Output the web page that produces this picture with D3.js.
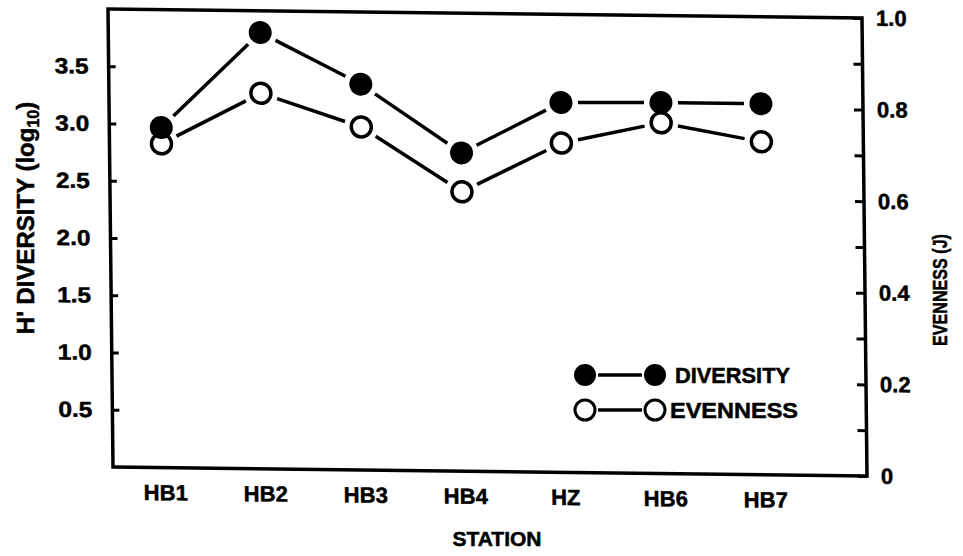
<!DOCTYPE html>
<html>
<head>
<meta charset="utf-8">
<script src="https://cdn.jsdelivr.net/npm/d3@7"></script>
<style>
  html, body { margin: 0; padding: 0; background: #fff; }
  svg { display: block; }
  text { font-family: "Liberation Sans", Arial, Helvetica, sans-serif; font-weight: bold; fill: #000; stroke: #000; stroke-width: 0.5px; }
</style>
</head>
<body>
<svg id="chart" width="963" height="556"></svg>
<script>
// ---- data ----
const stations = ["HB1", "HB2", "HB3", "HB4", "HZ", "HB6", "HB7"];
const diversity = [2.97, 3.81, 3.37, 2.78, 3.23, 3.24, 3.24];
const evenness = [0.707, 0.82, 0.749, 0.61, 0.719, 0.766, 0.727];
const leftTicks = [0.5, 1.0, 1.5, 2.0, 2.5, 3.0, 3.5];
const rightTicks = [0, 0.1, 0.2, 0.3, 0.4, 0.5, 0.6, 0.7, 0.8, 0.9, 1.0];
const rightLabels = ["0", "", "0.2", "", "0.4", "", "0.6", "", "0.8", "", "1.0"];

// ---- layout ----
const L = 108, R = 862, T = 9, B = 467;
const kx = 5 / 458, ky = 9 / 754; // slight skew of the scanned figure

const svg = d3.select("#chart");
const g = svg.append("g")
  .attr("transform", `matrix(1,${ky},${kx},1,${-kx * T},${-ky * L})`);

const x = d3.scalePoint().domain(stations).range([160, 760]);
const yL = d3.scaleLinear().domain([0, 4]).range([B, T]);
const yR = d3.scaleLinear().domain([0, 1]).range([B, T]);

// frame
g.append("rect")
  .attr("x", L).attr("y", T).attr("width", R - L).attr("height", B - T)
  .attr("fill", "none").attr("stroke", "#000").attr("stroke-width", 3.5);

// left axis
const axL = g.append("g").attr("transform", `translate(${L},0)`)
  .call(d3.axisLeft(yL).tickValues(leftTicks).tickSize(-7).tickPadding(20)
    .tickFormat(d3.format(".1f")));
axL.select(".domain").remove();
axL.selectAll(".tick line").attr("stroke", "#000").attr("stroke-width", 3);
axL.selectAll(".tick text").attr("font-size", 22).attr("font-family", null)
  .attr("textLength", 34).attr("lengthAdjust", "spacingAndGlyphs");

// right axis
const axR = g.append("g").attr("transform", `translate(${R},0)`)
  .call(d3.axisRight(yR).tickValues(rightTicks).tickSize(-9).tickPadding(14)
    .tickFormat((d, i) => rightLabels[i]));
axR.select(".domain").remove();
axR.selectAll(".tick line").attr("stroke", "#000").attr("stroke-width", 3);
axR.selectAll(".tick text").attr("font-size", 22).attr("font-family", null);

// bottom axis labels
const axB = g.append("g").attr("transform", `translate(0,${B})`)
  .call(d3.axisBottom(x).tickSize(0).tickPadding(17));
axB.select(".domain").remove();
axB.selectAll(".tick text").attr("font-size", 22).attr("font-family", null);

// trimmed connecting segments
function segments(vals, yScale, trim) {
  const pts = vals.map((v, i) => [x(stations[i]), yScale(v)]);
  const segs = [];
  for (let i = 0; i < pts.length - 1; i++) {
    const [x1, y1] = pts[i], [x2, y2] = pts[i + 1];
    const dx = x2 - x1, dy = y2 - y1, len = Math.hypot(dx, dy);
    const ux = dx / len, uy = dy / len;
    segs.push([x1 + ux * trim, y1 + uy * trim, x2 - ux * trim, y2 - uy * trim]);
  }
  return segs;
}

g.selectAll(".segD").data(segments(diversity, yL, 17)).enter().append("line")
  .attr("x1", d => d[0]).attr("y1", d => d[1]).attr("x2", d => d[2]).attr("y2", d => d[3])
  .attr("stroke", "#000").attr("stroke-width", 3.5);
g.selectAll(".segE").data(segments(evenness, yR, 17)).enter().append("line")
  .attr("x1", d => d[0]).attr("y1", d => d[1]).attr("x2", d => d[2]).attr("y2", d => d[3])
  .attr("stroke", "#000").attr("stroke-width", 3.5);

g.selectAll(".ptE").data(evenness).enter().append("circle")
  .attr("cx", (d, i) => x(stations[i])).attr("cy", d => yR(d)).attr("r", 10)
  .attr("fill", "#fff").attr("stroke", "#000").attr("stroke-width", 3.5);
g.selectAll(".ptD").data(diversity).enter().append("circle")
  .attr("cx", (d, i) => x(stations[i])).attr("cy", d => yL(d)).attr("r", 11.5)
  .attr("fill", "#000");

// axis titles
svg.append("text")
  .attr("transform", "translate(34,218) rotate(-90)")
  .attr("text-anchor", "middle").attr("font-size", 24)
  .call(t => {
    t.append("tspan").text("H' DIVERSITY (log");
    t.append("tspan").attr("font-size", 16).attr("dy", 5).text("10");
    t.append("tspan").attr("dy", -5).text(")");
  });

svg.append("text")
  .attr("transform", "translate(947,290) rotate(-90)")
  .attr("text-anchor", "middle").attr("font-size", 20)
  .attr("textLength", 112).attr("lengthAdjust", "spacingAndGlyphs")
  .text("EVENNESS (J)");

svg.append("text")
  .attr("x", 497).attr("y", 546)
  .attr("text-anchor", "middle").attr("font-size", 21)
  .text("STATION");

// legend
const leg = svg.append("g");
const legRows = [
  { label: "DIVERSITY", filled: true, y: 375, tx: 675 },
  { label: "EVENNESS", filled: false, y: 410, tx: 670 }
];
legRows.forEach(r => {
  leg.append("line").attr("x1", 598).attr("x2", 642).attr("y1", r.y).attr("y2", r.y)
    .attr("stroke", "#000").attr("stroke-width", 3.5);
  [585, 655].forEach(cx => {
    const c = leg.append("circle").attr("cx", cx).attr("cy", r.y);
    if (r.filled) c.attr("r", 11).attr("fill", "#000");
    else c.attr("r", 10).attr("fill", "#fff").attr("stroke", "#000").attr("stroke-width", 3);
  });
  leg.append("text").attr("x", r.tx).attr("y", r.y + 8).attr("font-size", 22)
    .attr("textLength", r.filled ? 115 : 128).attr("lengthAdjust", "spacingAndGlyphs")
    .text(r.label);
});
</script>
</body>
</html>
